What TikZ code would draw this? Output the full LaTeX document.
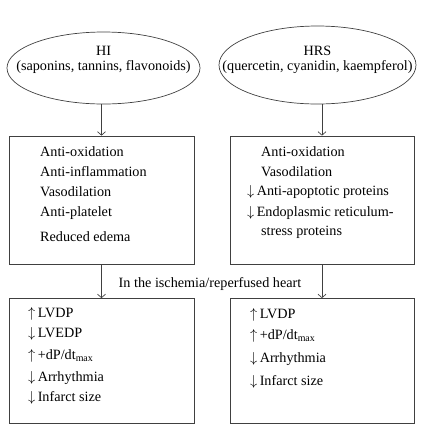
\documentclass[tikz,border=0pt]{standalone}
\usepackage{fontspec}
\setmainfont{Liberation Serif}
\usetikzlibrary{shapes.geometric,arrows.meta}

\tikzset{
  oval/.style={draw=black!75, ellipse, line width=0.7pt},
  caja/.style={draw=black!75, rectangle, line width=0.7pt},
  linea/.style={anchor=west, inner sep=0pt, font=\fontsize{14.2}{15}\selectfont},
}

\begin{document}
\begin{tikzpicture}[x=1pt, y=-1pt, >={Straight Barb[length=3.5pt,width=8pt]}]

    % Marco
    \useasboundingbox (0, 0) rectangle (432, 432);

    % Elipses
    \node[oval, minimum width=193, minimum height=72] (hi) at (103.5, 68) {};
    \node[oval, minimum width=197, minimum height=78] (hrs) at (317.5, 65) {};
    \node[align=center, font=\fontsize{14.2}{15}\selectfont] (hitext) at (103.5, 60)
      {HI\\(saponins, tannins, flavonoids)};
    \node[align=center, font=\fontsize{14.2}{15}\selectfont] (hrstext) at (317.5, 60)
      {HRS\\(quercetin, cyanidin, kaempferol)};

    % Cajas
    \node[caja, minimum width=185, minimum height=128] (efhi) at (101.5, 200) {};
    \node[caja, minimum width=184, minimum height=128] (efhrs) at (322, 200) {};
    \node[caja, minimum width=185, minimum height=125] (corhi) at (101.5, 361) {};
    \node[caja, minimum width=184, minimum height=125] (corhrs) at (322, 361) {};

    % Flechas
    \draw[->, draw=black!75, line width=0.7pt] (hi.south -| efhi.north) -- (efhi.north);
    \draw[->, draw=black!75, line width=0.7pt] (hrs.south -| efhrs.north) -- (efhrs.north);
    \draw[->, draw=black!75, line width=0.7pt] (efhi.south) -- (corhi.north);
    \draw[->, draw=black!75, line width=0.7pt] (efhrs.south) -- (corhrs.north);

    % Etiqueta
    \node[font=\fontsize{14.2}{15}\selectfont] (isq) at (210, 284) {In the ischemia/reperfused heart};

    % Efectos HI
    \node[linea] (a1) at (40, 152) {Anti-oxidation};
    \node[linea] (a2) at (40, 172) {Anti-inflammation};
    \node[linea] (a3) at (40, 192) {Vasodilation};
    \node[linea] (a4) at (40, 213) {Anti-platelet};
    \node[linea] (a5) at (40, 237) {Reduced edema};

    % Efectos HRS
    \node[linea] (b1) at (261, 152) {Anti-oxidation};
    \node[linea] (b2) at (261, 172) {Vasodilation};
    \node[linea] (b3) at (247, 192) {$\downarrow$\,Anti-apoptotic proteins};
    \node[linea] (b4) at (247, 213) {$\downarrow$\,Endoplasmic reticulum-};
    \node[linea] (b5) at (261, 232) {stress proteins};

    % Corazon HI
    \node[linea] (c1) at (28, 314) {$\uparrow$\,LVDP};
    \node[linea] (c2) at (28, 334) {$\downarrow$\,LVEDP};
    \node[linea] (c3) at (28, 356) {$\uparrow$\,+dP/dt\textsubscript{max}};
    \node[linea] (c4) at (28, 378) {$\downarrow$\,Arrhythmia};
    \node[linea] (c5) at (28, 398) {$\downarrow$\,Infarct size};

    % Corazon HRS
    \node[linea] (d1) at (250, 315) {$\uparrow$\,LVDP};
    \node[linea] (d2) at (250, 336) {$\uparrow$\,+dP/dt\textsubscript{max}};
    \node[linea] (d3) at (250, 359) {$\downarrow$\,Arrhythmia};
    \node[linea] (d4) at (250, 382) {$\downarrow$\,Infarct size};

  \end{tikzpicture}
\end{document}
